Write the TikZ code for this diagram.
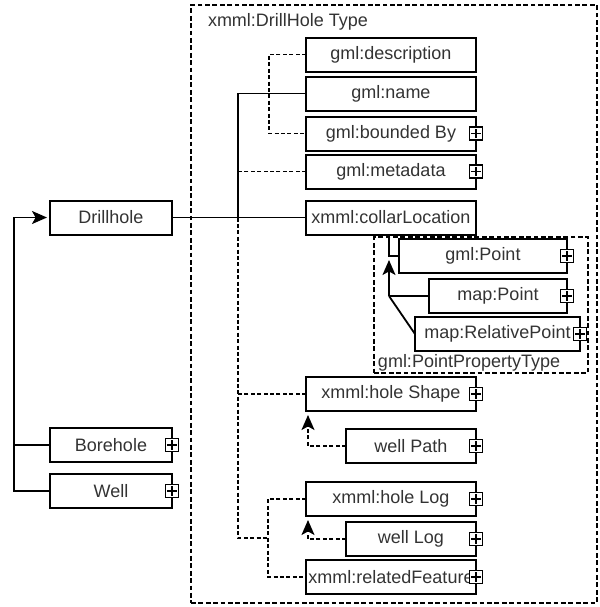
\documentclass[tikz,border=0pt]{standalone}
\usepackage{fontspec}
\setmainfont{Liberation Sans}
\usetikzlibrary{positioning, arrows.meta}

\begin{document}
\begin{tikzpicture}[
  x=0.5pt, y=-0.5pt,
  every node/.style={font=\fontsize{9}{10}\selectfont, text=black!80, inner sep=0pt, outer sep=0pt},
  elem/.style={draw, line width=1pt, minimum height=17pt, align=center},
  typebox/.style={draw, line width=0.9pt, dash pattern=on 2.4pt off 1.3pt},
  link/.style={line width=0.9pt},
  opt/.style={line width=0.9pt, dash pattern=on 2pt off 1.2pt},
  arrow/.style={-{Stealth[length=7.5pt, width=6.5pt, inset=1.8pt]}},
  expander/.pic={
    \draw[line width=0.7pt, fill=white] (-3.3pt,-3.3pt) rectangle (3.3pt,3.3pt);
    \draw[line width=0.7pt] (-2.3pt,0pt) -- (2.3pt,0pt) (0pt,-2.3pt) -- (0pt,2.3pt);
  }
]
  \useasboundingbox (0,0) rectangle (600,607);
  \node (dhtype) [typebox, minimum width=203pt, minimum height=299pt] at (394,304) {};
  \node[anchor=base west] (dhlabel) at (208,26) {xmml:DrillHole Type};

  \node (drill) [elem, minimum width=61pt] at (111,217.5) {Drillhole};
  \node (bore) [elem, minimum width=61pt] at (111,445) {Borehole};
  \node[below=6pt of bore] (well) [elem, minimum width=61pt] {Well};

  \node (desc) [elem, minimum width=85pt] at (391,54.5) {gml:description};
  \node[below=2.5pt of desc] (name) [elem, minimum width=85pt] {gml:name};
  \node[below=3pt of name] (bounded) [elem, minimum width=85pt] {gml:bounded By};
  \node[below=2pt of bounded] (meta) [elem, minimum width=85pt] {gml:metadata};
  \node[below=6pt of meta] (collar) [elem, minimum width=85pt] {xmml:collarLocation};

  \node (pptype) [typebox, minimum width=107pt, minimum height=68pt] at (481,305) {};
  \node[anchor=base west] (pplabel) at (378,367) {gml:PointPropertyType};
  \node (gpoint) [elem, minimum width=84pt] at (483,256) {gml:Point};
  \node[below left=3pt and 0pt of gpoint.south east] (mpoint) [elem, minimum width=69pt] {map:Point};
  \node (rpoint) [elem, minimum width=82.5pt] at (497.5,334) {map:RelativePoint};

  \node (shape) [elem, minimum width=85pt] at (391,394) {xmml:hole Shape};
  \node[below left=9pt and 0pt of shape.south east] (wpath) [elem, minimum width=65pt] {well Path};
  \node (hlog) [elem, minimum width=85pt] at (391,499) {xmml:hole Log};
  \node[below left=3pt and 0pt of hlog.south east] (wlog) [elem, minimum width=65pt] {well Log};
  \node (related) [elem, minimum width=85pt] at (391,577) {xmml:relatedFeature};

  \coordinate (hub) at (238,217.5);
  \coordinate (grp) at (268,538);
  \coordinate (drop) at ([xshift=-1pt]collar.south);
  \coordinate (sub) at (drop |- mpoint.west);

  \draw[link] (drill) -- (collar);
  \draw[link] (name.west) -| (hub);
  \draw[opt] (desc.west) -- ++(-37,0) |- (bounded.west);
  \draw[opt] (meta.west) -- (meta.west -| hub);
  \draw[opt] (hub) |- (grp);
  \draw[opt] (shape.west) -- (shape.west -| hub);
  \draw[opt] (hlog.west) -| (grp) |- (related.west);
  \draw[opt, arrow] (wpath.west) -| ([xshift=1pt, yshift=-2pt]shape.south west);
  \draw[opt, arrow] (wlog.west) -| ([xshift=1pt, yshift=-2pt]hlog.south west);

  \draw[link, arrow, shorten >=1.5pt] (well.west) -- ++(-36,0) |- (drill.west);
  \draw[link] (bore.west) -- ++(-36,0);

  \draw[link] (drop) |- (gpoint.west);
  \draw[link, arrow] (sub) -- ([yshift=-2pt]sub |- gpoint.west);
  \draw[link] (sub) -- (mpoint.west);
  \draw[link] (sub) -- (rpoint.west);

  \pic at (bore.east) {expander};
  \pic at (well.east) {expander};
  \pic at (bounded.east) {expander};
  \pic at (meta.east) {expander};
  \pic at (gpoint.east) {expander};
  \pic at (mpoint.east) {expander};
  \pic at (rpoint.east) {expander};
  \pic at (shape.east) {expander};
  \pic at (wpath.east) {expander};
  \pic at (hlog.east) {expander};
  \pic at (wlog.east) {expander};
  \pic at (related.east) {expander};
\end{tikzpicture}
\end{document}
